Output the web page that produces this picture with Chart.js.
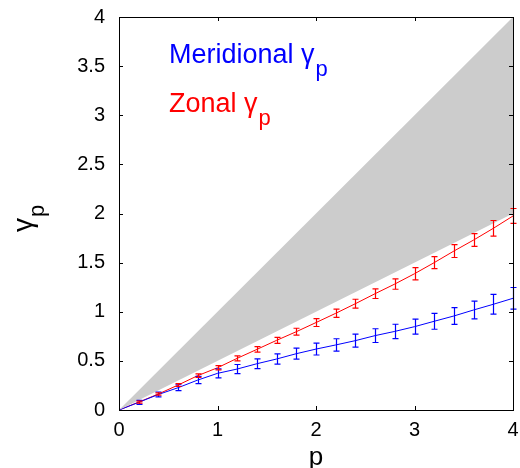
<!DOCTYPE html>
<html>
<head>
<meta charset="utf-8">
<script src="https://cdn.jsdelivr.net/npm/chart.js@4/dist/chart.umd.min.js"></script>
<style>
  html, body { margin: 0; padding: 0; background: #fff; }
  #wrap { width: 520px; height: 468px; position: relative; }
</style>
</head>
<body>
<div id="wrap"><canvas id="gammaChart"></canvas></div>
<script>
var pValues = [0, 0.2, 0.4, 0.6, 0.8, 1.0, 1.2, 1.4, 1.6, 1.8, 2.0, 2.2, 2.4, 2.6, 2.8, 3.0, 3.2, 3.4, 3.6, 3.8, 4.0];
var zonalGamma = [0, 0.08, 0.163, 0.254, 0.35, 0.43, 0.526, 0.617, 0.709, 0.797, 0.89, 0.984, 1.082, 1.184, 1.282, 1.387, 1.50, 1.618, 1.73, 1.849, 1.975];
var zonalErr = [0, 0.01, 0.012, 0.015, 0.018, 0.022, 0.025, 0.028, 0.031, 0.035, 0.04, 0.042, 0.045, 0.049, 0.053, 0.062, 0.062, 0.066, 0.065, 0.08, 0.076];
var meridionalGamma = [0, 0.078, 0.158, 0.227, 0.305, 0.373, 0.417, 0.471, 0.519, 0.573, 0.62, 0.662, 0.706, 0.757, 0.80, 0.848, 0.903, 0.957, 1.018, 1.076, 1.137];
var meridionalErr = [0, 0.02, 0.025, 0.03, 0.037, 0.046, 0.046, 0.05, 0.053, 0.056, 0.06, 0.063, 0.066, 0.07, 0.073, 0.076, 0.081, 0.085, 0.09, 0.1, 0.11];

// grey wedge between gamma = p/2 and gamma = p
var shadeP = [0, 4];
var shadeLow = [0, 2];
var shadeHigh = [0, 4];

var xTicks = [0, 1, 2, 3, 4];
var yTicks = [0, 0.5, 1, 1.5, 2, 2.5, 3, 3.5, 4];

var FONT = '"Liberation Sans", Arial, Helvetica, sans-serif';

function pts(xs, ys) {
    return xs.map(function (x, i) { return { x: x, y: ys[i] }; });
}

var errorBars = {
    id: 'errorBars',
    afterDatasetsDraw: function (chart) {
        var ctx = chart.ctx;
        var xs = chart.scales.x, ys = chart.scales.y;
        ctx.save();
        chart.data.datasets.forEach(function (ds) {
            if (!ds.errors) return;
            ctx.strokeStyle = ds.borderColor;
            ctx.lineWidth = 1.2;
            ds.data.forEach(function (d, i) {
                var e = ds.errors[i];
                if (!e) return;
                var px = Math.round(xs.getPixelForValue(d.x)) + 0.5;
                var y1 = ys.getPixelForValue(d.y - e);
                var y2 = ys.getPixelForValue(d.y + e);
                ctx.beginPath();
                ctx.moveTo(px, y1); ctx.lineTo(px, y2);
                ctx.moveTo(px - 3, y1); ctx.lineTo(px + 3, y1);
                ctx.moveTo(px - 3, y2); ctx.lineTo(px + 3, y2);
                ctx.stroke();
            });
        });
        ctx.restore();
    }
};

var boxAndTicks = {
    id: 'boxAndTicks',
    afterDraw: function (chart) {
        var ctx = chart.ctx, a = chart.chartArea;
        var xs = chart.scales.x, ys = chart.scales.y;
        ctx.save();
        ctx.strokeStyle = '#000';
        ctx.lineWidth = 1;
        ctx.strokeRect(Math.round(a.left) + 0.5, Math.round(a.top) + 0.5, Math.round(a.right - a.left), Math.round(a.bottom - a.top));
        ctx.beginPath();
        xs.ticks.forEach(function (t) {
            var px = Math.round(xs.getPixelForValue(t.value)) + 0.5;
            ctx.moveTo(px, a.bottom); ctx.lineTo(px, a.bottom - 4);
            ctx.moveTo(px, a.top); ctx.lineTo(px, a.top + 4);
        });
        ys.ticks.forEach(function (t) {
            var py = Math.round(ys.getPixelForValue(t.value)) + 0.5;
            ctx.moveTo(a.left, py); ctx.lineTo(a.left + 4, py);
            ctx.moveTo(a.right, py); ctx.lineTo(a.right - 4, py);
        });
        ctx.stroke();
        ctx.restore();
    }
};

// text with a subscript, drawn from a left baseline point
function drawSub(ctx, x, y, main, sub, size, subSize, drop, color) {
    ctx.fillStyle = color;
    ctx.textAlign = 'left';
    ctx.textBaseline = 'alphabetic';
    ctx.font = size + 'px ' + FONT;
    ctx.fillText(main, x, y);
    var w = ctx.measureText(main).width;
    ctx.font = subSize + 'px ' + FONT;
    ctx.fillText(sub, x + w + 1, y + drop);
}

var labels = {
    id: 'labels',
    afterDraw: function (chart) {
        var ctx = chart.ctx, a = chart.chartArea;
        ctx.save();
        drawSub(ctx, 169, 63, 'Meridional \u03b3', 'p', 27, 22, 13, '#0000ff');
        drawSub(ctx, 169, 112, 'Zonal \u03b3', 'p', 27, 22, 13, '#ff0000');

        // x axis title
        ctx.fillStyle = '#000';
        ctx.font = '26px ' + FONT;
        ctx.textAlign = 'center';
        ctx.textBaseline = 'alphabetic';
        ctx.fillText('p', (a.left + a.right) / 2, 465);

        // y axis title, rotated
        ctx.translate(32, 232);
        ctx.rotate(-Math.PI / 2);
        drawSub(ctx, 0, 0, '\u03b3', 'p', 28, 22, 12, '#000');
        ctx.restore();
    }
};

new Chart(document.getElementById('gammaChart'), {
    type: 'line',
    data: {
        datasets: [
            {
                label: 'low',
                data: pts(shadeP, shadeLow),
                borderWidth: 0,
                pointRadius: 0,
                fill: false
            },
            {
                label: 'high',
                data: pts(shadeP, shadeHigh),
                borderWidth: 0,
                pointRadius: 0,
                backgroundColor: '#cccccc',
                fill: '-1'
            },
            {
                label: 'Meridional',
                data: pts(pValues, meridionalGamma),
                errors: meridionalErr,
                borderColor: '#0000ff',
                borderWidth: 1,
                pointRadius: 0,
                fill: false
            },
            {
                label: 'Zonal',
                data: pts(pValues, zonalGamma),
                errors: zonalErr,
                borderColor: '#ff0000',
                borderWidth: 1,
                pointRadius: 0,
                fill: false
            }
        ]
    },
    options: {
        responsive: true,
        maintainAspectRatio: false,
        devicePixelRatio: 1,
        animation: false,
        layout: { padding: { left: 0, right: 7, top: 17, bottom: 0 } },
        plugins: { legend: { display: false }, tooltip: { enabled: false } },
        scales: {
            x: {
                type: 'linear',
                min: 0,
                max: 4,
                grid: { display: false },
                border: { display: false },
                afterBuildTicks: function (s) { s.ticks = xTicks.map(function (v) { return { value: v }; }); },
                afterFit: function (s) {
                    s.height = 58;
                    s.paddingLeft = 0;
                    s.paddingRight = 0;
                },
                ticks: {
                    color: '#000',
                    padding: 0,
                    maxRotation: 0,
                    font: { family: FONT, size: 20 },
                    callback: function (v) { return String(v); }
                }
            },
            y: {
                type: 'linear',
                min: 0,
                max: 4,
                grid: { display: false },
                border: { display: false },
                afterBuildTicks: function (s) { s.ticks = yTicks.map(function (v) { return { value: v }; }); },
                afterFit: function (s) {
                    s.width = 119;
                    s.paddingTop = 0;
                    s.paddingBottom = 0;
                },
                ticks: {
                    color: '#000',
                    padding: 6,
                    font: { family: FONT, size: 20 },
                    callback: function (v) { return String(v); }
                }
            }
        }
    },
    plugins: [errorBars, boxAndTicks, labels]
});
</script>
</body>
</html>
